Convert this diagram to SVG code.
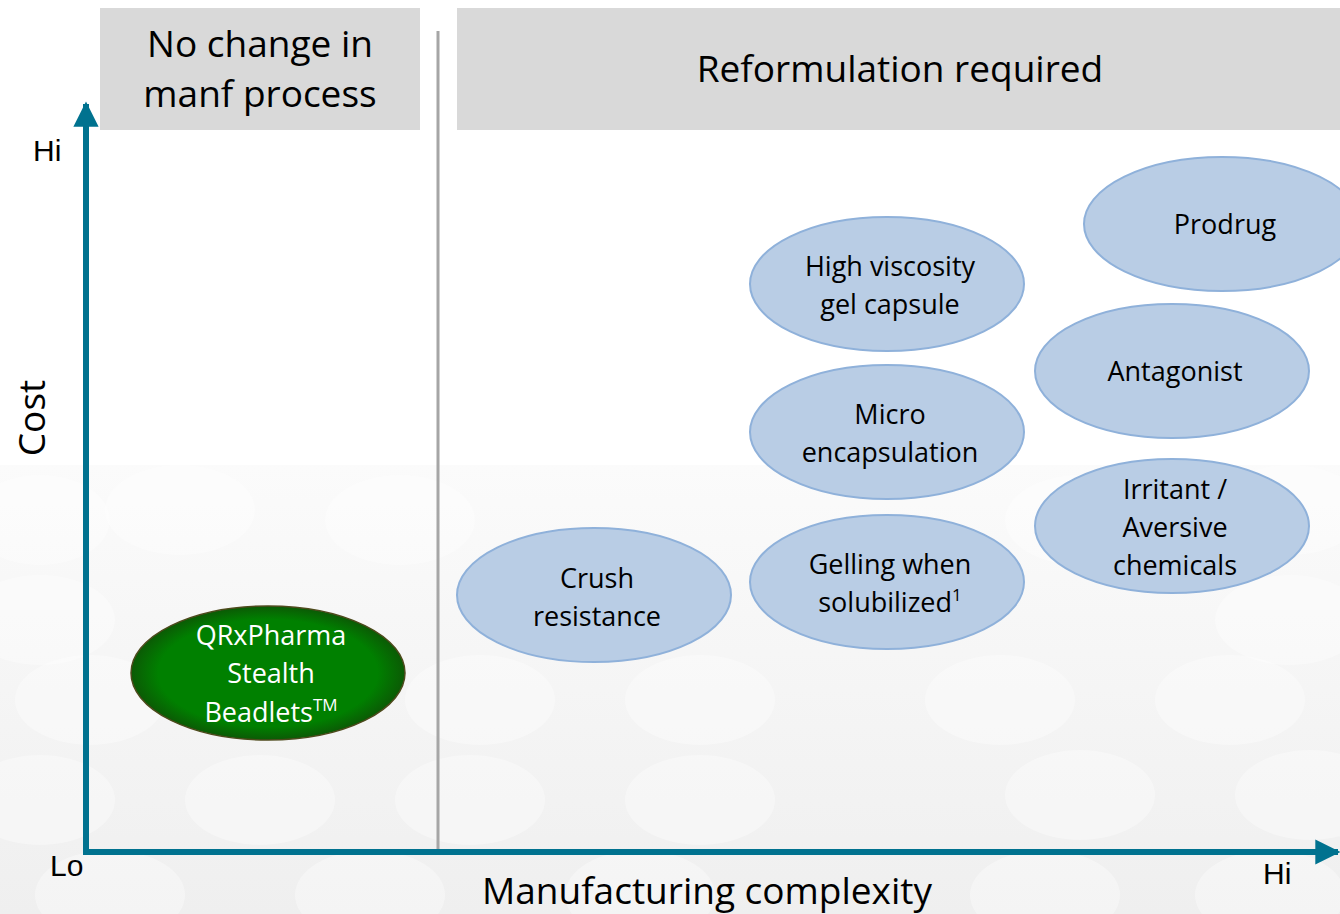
<svg xmlns="http://www.w3.org/2000/svg" width="1340" height="914" viewBox="0 0 1340 914">
<defs>
<linearGradient id="bg" x1="0" y1="0" x2="0" y2="1">
<stop offset="0" stop-color="#fbfbfb"/>
<stop offset="1" stop-color="#efefef"/>
</linearGradient>
<radialGradient id="green" cx="0.5" cy="0.5" r="0.5">
<stop offset="0.8" stop-color="#008000"/>
<stop offset="1" stop-color="#0b5a05"/>
</radialGradient>
<marker id="arr" viewBox="0 0 10 10" refX="9" refY="5" markerWidth="4.2" markerHeight="4.2" markerUnits="strokeWidth" orient="auto">
<path d="M0,0 L10,5 L0,10 z" fill="#00728f"/>
</marker>
<style>
.t{font-family:"Open Sans","Liberation Sans",sans-serif;fill:#000;text-anchor:middle}
.h{font-size:37px}
.e{font-size:27px}
.lbl{font-family:"Liberation Sans",Arial,sans-serif;font-size:30px;fill:#000}
.bub{fill:#b9cde5;stroke:#8fb1da;stroke-width:2}
.hdr{fill:#d9d9d9}
.bgdot{fill:#ffffff;opacity:0.35}
.w{fill:#ffffff}
</style>
</defs>
<rect width="1340" height="914" fill="#ffffff"/>
<rect x="0" y="465" width="1340" height="449" fill="url(#bg)"/>
<g>
<ellipse class="bgdot" cx="40" cy="520" rx="70" ry="45"/>
<ellipse class="bgdot" cx="180" cy="510" rx="75" ry="45"/>
<ellipse class="bgdot" cx="400" cy="520" rx="75" ry="45"/>
<ellipse class="bgdot" cx="1080" cy="520" rx="75" ry="45"/>
<ellipse class="bgdot" cx="1290" cy="510" rx="75" ry="45"/>
<ellipse class="bgdot" cx="40" cy="620" rx="75" ry="45"/>
<ellipse class="bgdot" cx="1290" cy="620" rx="75" ry="45"/>
<ellipse class="bgdot" cx="90" cy="700" rx="75" ry="45"/>
<ellipse class="bgdot" cx="480" cy="700" rx="75" ry="45"/>
<ellipse class="bgdot" cx="700" cy="700" rx="75" ry="45"/>
<ellipse class="bgdot" cx="1000" cy="700" rx="75" ry="45"/>
<ellipse class="bgdot" cx="1230" cy="700" rx="75" ry="45"/>
<ellipse class="bgdot" cx="40" cy="800" rx="75" ry="45"/>
<ellipse class="bgdot" cx="260" cy="800" rx="75" ry="45"/>
<ellipse class="bgdot" cx="470" cy="800" rx="75" ry="45"/>
<ellipse class="bgdot" cx="700" cy="800" rx="75" ry="45"/>
<ellipse class="bgdot" cx="1080" cy="795" rx="75" ry="45"/>
<ellipse class="bgdot" cx="1310" cy="795" rx="75" ry="45"/>
<ellipse class="bgdot" cx="110" cy="895" rx="75" ry="45"/>
<ellipse class="bgdot" cx="370" cy="895" rx="75" ry="45"/>
<ellipse class="bgdot" cx="640" cy="895" rx="75" ry="45"/>
<ellipse class="bgdot" cx="1045" cy="895" rx="75" ry="45"/>
<ellipse class="bgdot" cx="1270" cy="895" rx="75" ry="45"/>
</g>
<g id="header-left">
<rect class="hdr" x="100" y="8" width="320" height="122"/>
<text class="t h" x="260" y="57">No change in</text>
<text class="t h" x="260" y="107">manf process</text>
</g>
<g id="header-right">
<rect class="hdr" x="457" y="8" width="883" height="122"/>
<text class="t h" x="900" y="82">Reformulation required</text>
</g>
<g id="connectors">
<line x1="438" y1="31" x2="438" y2="853" stroke="#a6a6a6" stroke-width="3"/>
<line x1="86" y1="855" x2="86" y2="104" stroke="#00728f" stroke-width="6" marker-end="url(#arr)"/>
<line x1="83" y1="852" x2="1338" y2="852" stroke="#00728f" stroke-width="6" marker-end="url(#arr)"/>
</g>
<g id="axis-labels">
<text class="lbl" x="33" y="161">Hi</text>
<text class="lbl" x="50" y="876">Lo</text>
<text class="lbl" x="1263" y="884">Hi</text>
<text class="t h" x="0" y="0" transform="translate(45,418) rotate(-90)">Cost</text>
<text class="t h" x="707" y="904">Manufacturing complexity</text>
</g>
<g id="node-prodrug">
<ellipse class="bub" cx="1222" cy="224" rx="138" ry="67"/>
<text class="t e" x="1225" y="234">Prodrug</text>
</g>
<g id="node-high-viscosity">
<ellipse class="bub" cx="887" cy="284" rx="137" ry="67"/>
<text class="t e" x="890" y="276">High viscosity</text>
<text class="t e" x="890" y="314">gel capsule</text>
</g>
<g id="node-antagonist">
<ellipse class="bub" cx="1172" cy="371" rx="137" ry="67"/>
<text class="t e" x="1175" y="381">Antagonist</text>
</g>
<g id="node-micro">
<ellipse class="bub" cx="887" cy="432" rx="137" ry="67"/>
<text class="t e" x="890" y="424">Micro</text>
<text class="t e" x="890" y="462">encapsulation</text>
</g>
<g id="node-irritant">
<ellipse class="bub" cx="1172" cy="526" rx="137" ry="67"/>
<text class="t e" x="1175" y="499">Irritant /</text>
<text class="t e" x="1175" y="537">Aversive</text>
<text class="t e" x="1175" y="575">chemicals</text>
</g>
<g id="node-gelling">
<ellipse class="bub" cx="887" cy="582" rx="137" ry="67"/>
<text class="t e" x="890" y="574">Gelling when</text>
<text class="t e" x="890" y="612">solubilized<tspan font-size="17" dy="-11">1</tspan></text>
</g>
<g id="node-crush">
<ellipse class="bub" cx="594" cy="595" rx="137" ry="67"/>
<text class="t e" x="597" y="588">Crush</text>
<text class="t e" x="597" y="626">resistance</text>
</g>
<g id="node-qrx">
<ellipse cx="268" cy="673" rx="137" ry="67" fill="url(#green)" stroke="#4d4a1c" stroke-width="1.5"/>
<text class="t e w" x="271" y="645">QRxPharma</text>
<text class="t e w" x="271" y="683">Stealth</text>
<text class="t e w" x="271" y="722">Beadlets<tspan font-size="17" dy="-11">TM</tspan></text>
</g>
</svg>
